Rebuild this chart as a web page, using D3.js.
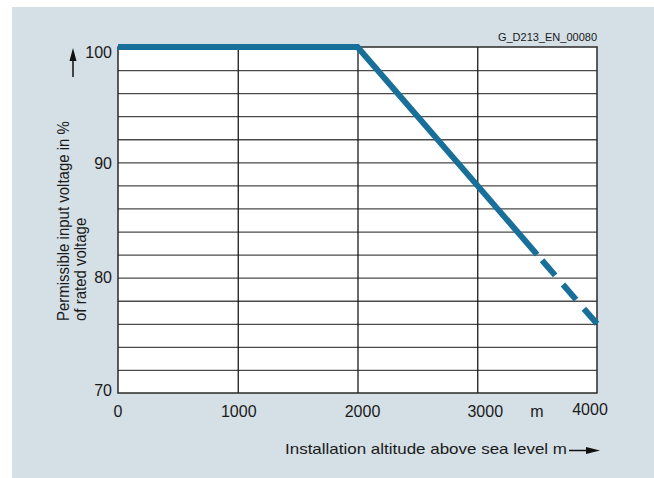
<!DOCTYPE html>
<html><head><meta charset="utf-8">
<script src="https://cdn.jsdelivr.net/npm/d3@7"></script>
<style>body{margin:0;background:#fff}svg{display:block}text{font-family:"Liberation Sans",Arial,sans-serif;fill:#1a1a1a}</style>
</head><body>
<script>
const altitudes = [0, 2000, 3000, 3500];
const voltages = [100, 100, 88, 82];
const dashedAltitudes = [4000, 3500];
const dashedVoltages = [76, 82];
const xTicks = [0, 1000, 2000, 3000, 4000];
const xTickLabels = ["0", "1000", "2000", "3000", "4000"];
const yTicks = [70, 80, 90, 100];
const yGrid = [72, 74, 76, 78, 82, 84, 86, 88, 92, 94, 96, 98];

const W = 654, H = 478;
const svg = d3.select("body").append("svg").attr("width", W).attr("height", H);
svg.append("rect").attr("x", 12).attr("y", 7).attr("width", W - 12).attr("height", H - 7).attr("fill", "#d5dfe6");

const x = d3.scaleLinear().domain([0, 4000]).range([118, 597]);
const y = d3.scaleLinear().domain([70, 100]).range([393, 47]);

svg.append("rect").attr("x", x(0)).attr("y", y(100)).attr("width", x(4000) - x(0)).attr("height", y(70) - y(100)).attr("fill", "#fff");

// horizontal grid
svg.append("g").attr("transform", `translate(${x(0)},0)`)
  .call(d3.axisLeft(y).tickValues(yGrid.concat([80, 90])).tickSize(-(x(4000) - x(0))).tickFormat(""))
  .call(g => g.select(".domain").remove())
  .call(g => g.selectAll("line").attr("stroke", "#4a4a4a").attr("stroke-width", 1.3));
// vertical grid
svg.append("g").attr("transform", `translate(0,${y(70)})`)
  .call(d3.axisBottom(x).tickValues([1000, 2000, 3000]).tickSize(-(y(70) - y(100))).tickFormat(""))
  .call(g => g.select(".domain").remove())
  .call(g => g.selectAll("line").attr("stroke", "#1a1a1a").attr("stroke-width", 1.3));
// border
svg.append("rect").attr("x", x(0)).attr("y", y(100)).attr("width", x(4000) - x(0)).attr("height", y(70) - y(100))
  .attr("fill", "none").attr("stroke", "#2a2a2a").attr("stroke-width", 1.5);

// y tick labels
const yOff = {100: 5, 90: 1, 80: 0, 70: -3};
svg.append("g").selectAll("text").data(yTicks).join("text")
  .attr("x", 112).attr("y", d => y(d) + yOff[d]).attr("dy", "0.36em")
  .attr("text-anchor", "end").attr("font-size", 16).text(d => d);

// x tick labels
const xOff = {0: 0, 1000: 1, 2000: 5, 3000: 8, 4000: -7};
const yXOff = {0: 0, 1000: 0, 2000: 0, 3000: 0, 4000: -2};
svg.append("g").selectAll("text").data(xTicks).join("text")
  .attr("x", d => x(d) + xOff[d]).attr("y", d => 417 + yXOff[d])
  .attr("text-anchor", "middle").attr("font-size", 16).text((d, i) => xTickLabels[i]);
svg.append("text").attr("x", 537).attr("y", 417).attr("text-anchor", "middle").attr("font-size", 16).text("m");

// data line
const line = d3.line().x(d => x(d[0])).y(d => y(d[1]));
svg.append("path").datum(altitudes.map((a, i) => [a, voltages[i]]))
  .attr("d", line).attr("fill", "none").attr("stroke", "#18709a").attr("stroke-width", 6).attr("stroke-linejoin", "miter");
svg.append("path").datum(dashedAltitudes.map((a, i) => [a, dashedVoltages[i]]))
  .attr("d", line).attr("fill", "none").attr("stroke", "#18709a").attr("stroke-width", 6).attr("stroke-dasharray", "20,12");

// y label
const yl = svg.append("text").attr("transform", "translate(68.5,321) scale(1.12,1) rotate(-90)").attr("font-size", 15);
yl.append("tspan").attr("x", 0).attr("y", 0).text("Permissible input voltage in  %");
yl.append("tspan").attr("x", 0).attr("y", 16).text("of rated voltage");

// y arrow
svg.append("line").attr("x1", 73).attr("x2", 73).attr("y1", 77).attr("y2", 58).attr("stroke", "#111").attr("stroke-width", 1.5);
svg.append("path").attr("d", "M73,48 L69.5,61 L76.5,61 Z").attr("fill", "#111");

// x label
svg.append("text").attr("x", 285).attr("y", 454).attr("font-size", 15)
  .attr("textLength", 282).attr("lengthAdjust", "spacingAndGlyphs").text("Installation altitude above sea level m");
svg.append("line").attr("x1", 569).attr("x2", 590).attr("y1", 450.5).attr("y2", 450.5).attr("stroke", "#111").attr("stroke-width", 1.5);
svg.append("path").attr("d", "M600,450.5 L586,447 L586,454 Z").attr("fill", "#111");

// code label
svg.append("text").attr("x", 597).attr("y", 41).attr("text-anchor", "end").attr("font-size", 11).text("G_D213_EN_00080");
</script>
</body></html>
